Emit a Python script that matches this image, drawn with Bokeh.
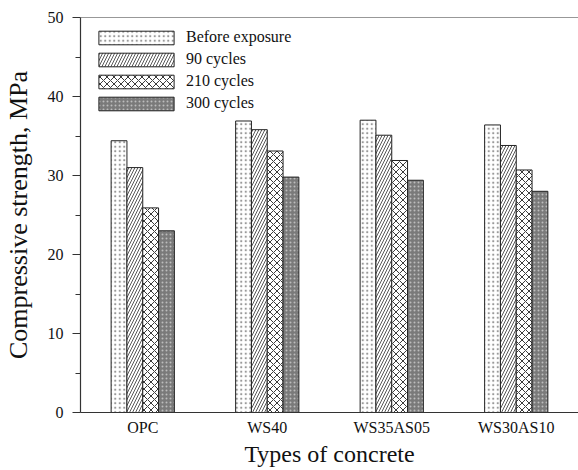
from bokeh.plotting import figure
from bokeh.models import ColumnDataSource, FactorRange, Range1d, Span, Legend, LegendItem, FixedTicker
from bokeh.transform import dodge
from bokeh.embed import file_html
from bokeh.resources import INLINE

categories = ["OPC", "WS40", "WS35AS05", "WS30AS10"]
series_names = ["Before exposure", "90 cycles", "210 cycles", "300 cycles"]
before_exposure = [34.4, 36.9, 37.0, 36.4]
cycles_90 = [31.0, 35.8, 35.1, 33.8]
cycles_210 = [25.9, 33.1, 31.9, 30.7]
cycles_300 = [23.0, 29.8, 29.4, 28.0]

source = ColumnDataSource(dict(cat=categories, b=before_exposure, c90=cycles_90,
                               c210=cycles_210, c300=cycles_300))

FONT = "Liberation Serif"
p = figure(width=578, height=470, x_range=FactorRange(*categories, range_padding=0),
           y_range=Range1d(0, 50), output_backend="svg", toolbar_location=None,
           min_border_left=79, min_border_right=0, min_border_top=17, min_border_bottom=58)
p.outline_line_color = None
p.grid.grid_line_color = None
p.background_fill_color = None
p.border_fill_color = "white"

w = 0.127
styles = [
    dict(col="b", off=-1.5 * w, fill="white", hatch=".", hc="#999999", hs=4.5, hw=1.0),
    dict(col="c90", off=-0.5 * w, fill="white", hatch="/", hc="#444444", hs=6.0, hw=0.9),
    dict(col="c210", off=0.5 * w, fill="white", hatch="x", hc="#222222", hs=7.0, hw=0.9),
    dict(col="c300", off=1.5 * w, fill="#7a7a7a", hatch=".", hc="#bdbdbd", hs=4.0, hw=1.2),
]
renderers = []
for s in styles:
    r = p.vbar(x=dodge("cat", s["off"], range=p.x_range), top=s["col"], width=w, source=source,
               fill_color=s["fill"], line_color="#222222", line_width=1,
               hatch_pattern=s["hatch"], hatch_color=s["hc"], hatch_scale=s["hs"],
               hatch_weight=s["hw"])
    renderers.append(r)

legend = Legend(items=[LegendItem(label=n, renderers=[r]) for n, r in zip(series_names, renderers)],
                glyph_width=94, glyph_height=17, spacing=4,
                label_text_font=FONT, label_text_font_size="16px", label_text_color="#111111",
                border_line_color=None, background_fill_alpha=0, padding=2,
                label_standoff=3, location=(9, 300), margin=0)
p.add_layout(legend, "center")

p.add_layout(Span(location=50, dimension="width", line_color="#333333", line_width=1.2))

p.yaxis.ticker = FixedTicker(ticks=[0, 10, 20, 30, 40, 50], minor_ticks=[5, 15, 25, 35, 45])
p.yaxis.axis_label = "Compressive strength, MPa"
p.xaxis.axis_label = "Types of concrete"
for ax in (p.xaxis, p.yaxis):
    ax.axis_label_text_font = FONT
    ax.axis_label_text_font_style = "normal"
    ax.axis_label_text_color = "#111111"
    ax.major_label_text_font = FONT
    ax.major_label_text_font_size = "16px"
    ax.major_label_text_color = "#111111"
    ax.axis_line_color = "#333333"
    ax.axis_line_width = 1.2
p.yaxis.axis_label_text_font_size = "26px"
p.xaxis.axis_label_text_font_size = "24px"
p.yaxis.major_tick_out = 8
p.yaxis.major_tick_in = 0
p.yaxis.minor_tick_out = 5
p.yaxis.minor_tick_in = 0
p.yaxis.major_tick_line_color = "#333333"
p.yaxis.minor_tick_line_color = "#333333"
p.yaxis.major_label_standoff = 9
p.yaxis.axis_label_standoff = 12
p.xaxis.major_tick_line_color = None
p.xaxis.minor_tick_line_color = None
p.xaxis.major_label_standoff = 0
p.xaxis.axis_label_standoff = 2

open("out.html", "w").write(file_html(p, INLINE))
